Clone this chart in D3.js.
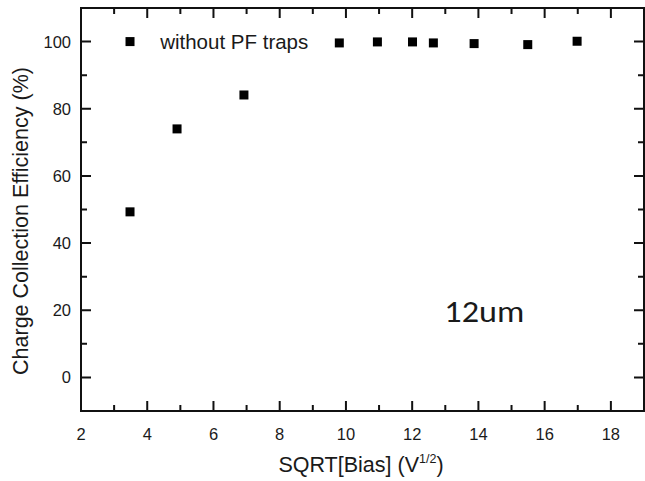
<!DOCTYPE html>
<html>
<head>
<meta charset="utf-8">
<script src="https://cdn.jsdelivr.net/npm/d3@7"></script>
<style>
  body { margin: 0; background: #fff; }
  text { font-family: 'Liberation Sans', Arial, sans-serif; fill: #1a1a1a; }
</style>
</head>
<body>
<div id="chart"></div>
<script>
// data
const biasSqrt = [3.48, 4.9, 6.92, 9.8, 10.95, 12.01, 12.64, 13.87, 15.49, 16.98]
const efficiency = [49.3, 74.0, 84.1, 99.6, 99.9, 99.9, 99.6, 99.4, 99.1, 100.1]
const xTicks = [2, 4, 6, 8, 10, 12, 14, 16, 18]
const xMinor = [3, 5, 7, 9, 11, 13, 15, 17]
const yTicks = [0, 20, 40, 60, 80, 100]
const yMinor = [-10, 10, 30, 50, 70, 90, 110]
const seriesName = 'without PF traps'
const thicknessLabel = '12um'

const W = 645
const H = 481
const margin = { top: 8, right: 1, bottom: 70, left: 81 }
const width = W - margin.left - margin.right
const height = H - margin.top - margin.bottom

const svg = d3.select('#chart')
  .append('svg')
  .attr('width', W)
  .attr('height', H)

const g = svg.append('g')
  .attr('transform', `translate(${margin.left},${margin.top})`)

const x = d3.scaleLinear().domain([2, 19]).range([0, width])
const y = d3.scaleLinear().domain([-10, 110]).range([height, 0])

// ticks on all four sides, pointing inward, drawn as one path
const p = d3.path()
function xt (v, len) {
  p.moveTo(x(v), height); p.lineTo(x(v), height - len)
  p.moveTo(x(v), 0); p.lineTo(x(v), len)
}
function yt (v, len) {
  p.moveTo(0, y(v)); p.lineTo(len, y(v))
  p.moveTo(width, y(v)); p.lineTo(width - len, y(v))
}
xTicks.forEach(v => xt(v, 10))
xMinor.forEach(v => xt(v, 6))
yTicks.forEach(v => yt(v, 10))
yMinor.forEach(v => yt(v, 6))

g.append('path')
  .attr('d', p.toString())
  .attr('fill', 'none')
  .attr('stroke', '#111')
  .attr('stroke-width', 2)

// frame
g.append('rect')
  .attr('width', width)
  .attr('height', height)
  .attr('fill', 'none')
  .attr('stroke', '#111')
  .attr('stroke-width', 2)

// tick labels
g.selectAll('.xlab')
  .data(xTicks)
  .join('text')
  .attr('x', d => x(d))
  .attr('y', height + 29)
  .attr('text-anchor', 'middle')
  .attr('font-size', 16.5)
  .text(d => d)

g.selectAll('.ylab')
  .data(yTicks)
  .join('text')
  .attr('x', -10)
  .attr('y', d => y(d))
  .attr('dy', '0.36em')
  .attr('text-anchor', 'end')
  .attr('font-size', 16.5)
  .text(d => d)

// axis titles
const xTitle = svg.append('text')
  .attr('x', 361)
  .attr('y', 472)
  .attr('text-anchor', 'middle')
  .attr('font-size', 21.5)
xTitle.append('tspan').text('SQRT[Bias] (V')
xTitle.append('tspan').attr('font-size', 12.5).attr('dy', -9).text('1/2')
xTitle.append('tspan').attr('dy', 9).text(')')

svg.append('text')
  .attr('transform', 'translate(28,221) rotate(-90)')
  .attr('text-anchor', 'middle')
  .attr('font-size', 21.5)
  .text('Charge Collection Efficiency (%)')

// points
const size = 9
g.selectAll('.pt')
  .data(biasSqrt)
  .join('rect')
  .attr('x', d => x(d) - size / 2)
  .attr('y', (d, i) => y(efficiency[i]) - size / 2)
  .attr('width', size)
  .attr('height', size)
  .attr('fill', '#000')

// legend
g.append('rect')
  .attr('x', x(3.48) - size / 2)
  .attr('y', y(100) - size / 2)
  .attr('width', size)
  .attr('height', size)
  .attr('fill', '#000')

g.append('text')
  .attr('x', x(4.39))
  .attr('y', y(100))
  .attr('dy', '0.36em')
  .attr('font-size', 20.5)
  .text(seriesName)

g.append('text')
  .attr('x', x(12.97))
  .attr('y', y(16.4))
  .style('font-family', 'Carlito, Lato, sans-serif')
  .attr('font-size', 31)
  .attr('textLength', 80)
  .attr('lengthAdjust', 'spacingAndGlyphs')
  .text(thicknessLabel)
</script>
</body>
</html>
